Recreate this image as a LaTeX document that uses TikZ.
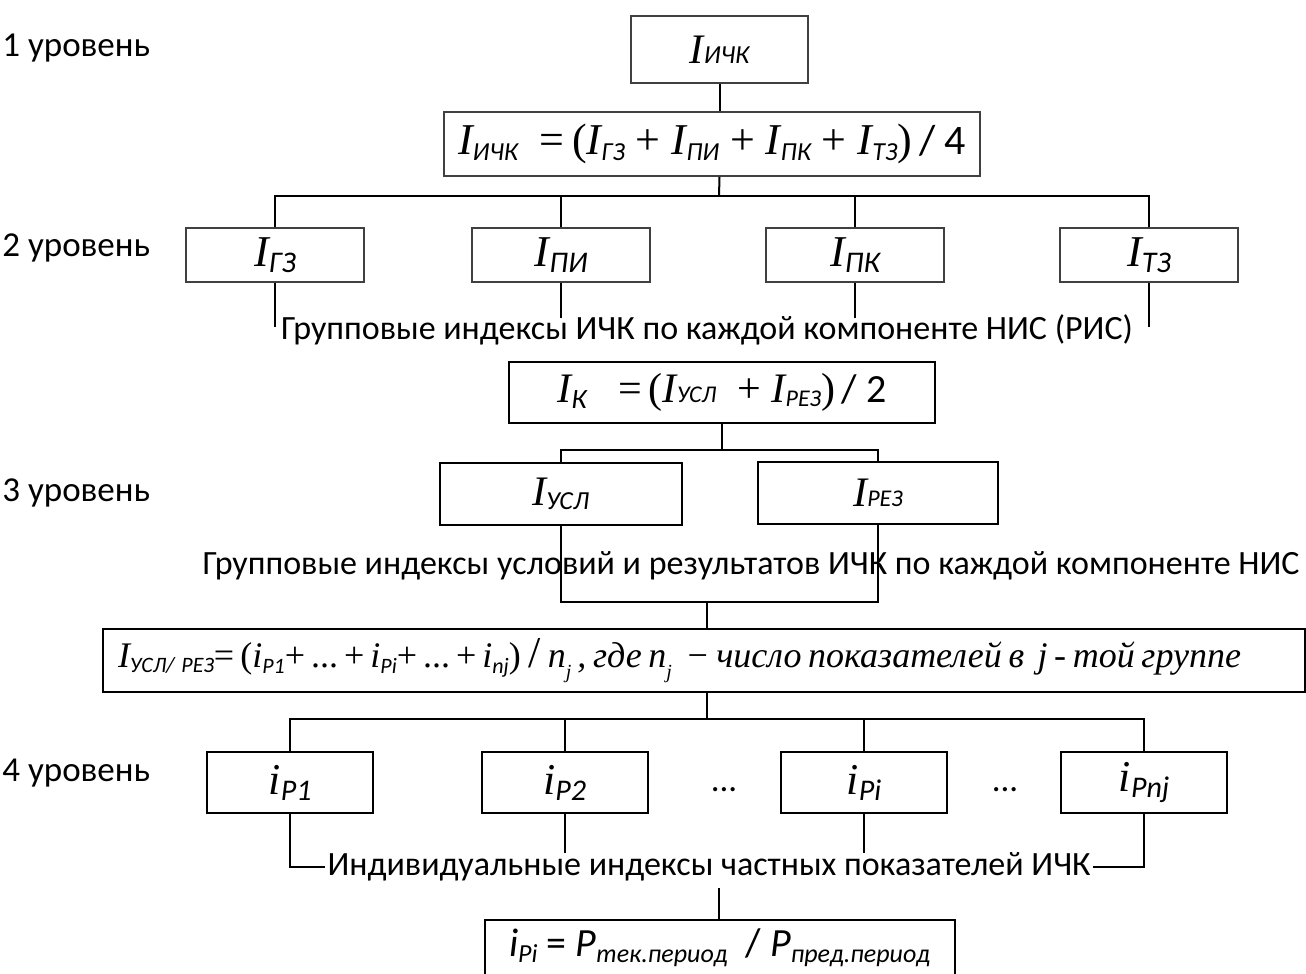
\documentclass[tikz,border=0pt]{standalone}
\usepackage{fontspec}
\setmainfont{Carlito}
\newfontfamily\timesfont{Liberation Serif}

% Times upright / Times italic / Carlito italic, with size
\newcommand{\tmr}[2]{{\timesfont\fontsize{#1}{#1}\selectfont #2}}
\newcommand{\tmi}[2]{{\timesfont\itshape\fontsize{#1}{#1}\selectfont #2}}
\newcommand{\cbi}[2]{{\itshape\fontsize{#1}{#1}\selectfont #2}}
\newcommand{\lowsub}[3][-.3em]{\raisebox{#1}{\cbi{#2}{#3}}}

\begin{document}
\begin{tikzpicture}[x=0.5pt,y=-0.5pt,
    box/.style={draw, line width=1pt, inner sep=0pt},
    thinbox/.style={draw=black!75, line width=0.8pt, inner sep=0pt},
    lbl/.style={font=\fontsize{17.5}{21}\selectfont, inner sep=1pt},
    grptext/.style={font=\fontsize{17}{21}\selectfont, inner sep=1pt},
    conn/.style={line width=1pt}]

    \useasboundingbox (0,0) rectangle (1306,974);

    % Level labels
    \node[lbl, anchor=west] (lev1) at (0,48) {1 уровень};
    \node[lbl, anchor=west] (lev2) at (0,248) {2 уровень};
    \node[lbl, anchor=west] (lev3) at (0,493) {3 уровень};
    \node[lbl, anchor=west] (lev4) at (0,773) {4 уровень};

    % Level 1
    \node[thinbox, minimum width=88.5pt, minimum height=33.5pt] (ichk) at (719.5,49.5)
        {\tmi{21}{I}\cbi{13}{ИЧК}};
    \node[thinbox, minimum width=268pt, minimum height=32pt] (f1) at (712,144)
        {\tmi{22}{I}\lowsub{13}{ИЧК}\tmr{22}{\ \ =\,(}\tmi{22}{I}\lowsub{13}{ГЗ}\tmr{22}{ + }\tmi{22}{I}\lowsub{13}{ПИ}\tmr{22}{ + }\tmi{22}{I}\lowsub{13}{ПК}\tmr{22}{ + }\tmi{22}{I}\lowsub{13}{ТЗ}\tmr{22}{)}{\fontsize{21}{21}\selectfont\,/ 4}};

    % Level 2
    \node[thinbox, minimum width=89pt, minimum height=27pt] (gz) at (275,255) {\tmi{22}{I}\lowsub{15}{ГЗ}};
    \node[thinbox, minimum width=89pt, minimum height=27pt] (pi) at (561,255) {\tmi{22}{I}\lowsub{15}{ПИ}};
    \node[thinbox, minimum width=89pt, minimum height=27pt] (pk) at (855,255) {\tmi{22}{I}\lowsub{15}{ПК}};
    \node[thinbox, minimum width=89pt, minimum height=27pt] (tz) at (1149,255) {\tmi{22}{I}\lowsub{15}{ТЗ}};
    \node[grptext] (grp1) at (707,330) {Групповые индексы ИЧК по каждой компоненте НИС (РИС)};

    % Level 3
    \node[box, minimum width=213pt, minimum height=30.5pt] (fk) at (722,392.5)
        {\tmi{21}{I}\lowsub{14}{К}\tmr{21}{\ \ \ =\,(}\tmi{21}{I}\cbi{12}{УСЛ}\tmr{21}{\ \ + }\tmi{21}{I}\lowsub[-.2em]{12}{РЕЗ}\tmr{21}{)}{\fontsize{20}{20}\selectfont\,/ 2}};
    \node[box, minimum width=121pt, minimum height=31pt] (usl) at (560.5,494) {\tmi{21}{I}\lowsub[-.2em]{13}{УСЛ}};
    \node[box, minimum width=120pt, minimum height=31pt] (rez) at (878,493) {\tmi{21}{I}\cbi{12}{РЕЗ}};
    \node[grptext] (grp2) at (751,566) {Групповые индексы условий и результатов ИЧК по каждой компоненте НИС};
    \node[box, minimum height=31.5pt, text width=586pt, inner xsep=7.5pt, align=left] (f3) at (704,660.5)
        {\tmi{18}{I}\lowsub[-.25em]{11}{УСЛ/ РЕЗ}\tmr{18}{=\,(}\tmi{18}{i}\lowsub{11}{P1}\tmr{18}{+\,...\,+\,}\tmi{18}{i}\lowsub{11}{Pi}\tmr{18}{+\,...\,+\,}\tmi{18}{i}\lowsub{11}{nj}\tmr{18}{)}\tmr{22}{\,/\,}\tmi{18}{n\raisebox{-.3em}{\fontsize{10}{10}\selectfont j}\,, где n\raisebox{-.3em}{\fontsize{10}{10}\selectfont j}\ \ − число показателей в\ \ j - той группе}};

    % Level 4
    \node[box, minimum width=83pt, minimum height=30.5pt] (p1) at (290,782.5) {\tmi{22}{i}\lowsub{15}{P1}};
    \node[box, minimum width=83pt, minimum height=30.5pt] (p2) at (564.5,782.5) {\tmi{22}{i}\lowsub{15}{P2}};
    \node[lbl] (dots1) at (724,790) {...};
    \node[box, minimum width=83pt, minimum height=30.5pt] (ppi) at (864,782.5) {\tmi{22}{i}\lowsub{15}{Pi}};
    \node[lbl] (dots2) at (1005,790) {...};
    \node[box, minimum width=83pt, minimum height=30.5pt] (pnj) at (1144,782.5) {\tmi{22}{i}\lowsub{15}{Pnj}};
    \node[grptext] (indiv) at (709,867) {Индивидуальные индексы частных показателей ИЧК};
    \node[box, minimum height=28pt, inner xsep=12pt] (fp) at (720,948)
        {\makebox[211pt][l]{\cbi{20}{i}\lowsub{13}{Pi}{\fontsize{20}{20}\selectfont\ = }\cbi{20}{P}\lowsub{13}{тек.период}{\fontsize{20}{20}\selectfont\ \ / }\cbi{20}{P}\lowsub{13}{пред.период}}};

    % Connectors, levels 1-2
    \coordinate (b1) at (719,196);
    \coordinate (t1) at (0,318);
    \coordinate (t2) at (0,327);
    \draw[conn] (ichk.south) -- (ichk.south |- f1.north);
    \draw[conn] (ichk.south |- f1.south) -- (b1);
    \draw[conn] (gz.north) |- (b1) -| (tz.north);
    \draw[conn] (pi.north) -- (pi.north |- b1);
    \draw[conn] (pk.north) -- (pk.north |- b1);
    \draw[conn] (gz.south) -- (gz.south |- t2);
    \draw[conn] (tz.south) -- (tz.south |- t2);
    \draw[conn] (pi.south) -- (pi.south |- t1);
    \draw[conn] (pk.south) -- (pk.south |- t1);

    % Connectors, level 3
    \coordinate (b2) at (722,450);
    \coordinate (b3) at (707,602);
    \draw[conn] (fk.south) -- (b2);
    \draw[conn] (usl.north) |- (b2) -| (rez.north);
    \draw[conn] (usl.south) |- (b3) -| (rez.south);
    \draw[conn] (b3) -- (b3 |- f3.north);

    % Connectors, level 4
    \coordinate (b4) at (707,719);
    \coordinate (t4) at (0,853);
    \coordinate (t5) at (719,888);
    \draw[conn] (b3 |- f3.south) -- (b4);
    \draw[conn] (p1.north) |- (b4) -| (pnj.north);
    \draw[conn] (p2.north) -- (p2.north |- b4);
    \draw[conn] (ppi.north) -- (ppi.north |- b4);
    \draw[conn] (p1.south) |- (indiv.west);
    \draw[conn] (pnj.south) |- (indiv.east);
    \draw[conn] (p2.south) -- (p2.south |- t4);
    \draw[conn] (ppi.south) -- (ppi.south |- t4);
    \draw[conn] (t5) -- (t5 |- fp.north);
\end{tikzpicture}
\end{document}
